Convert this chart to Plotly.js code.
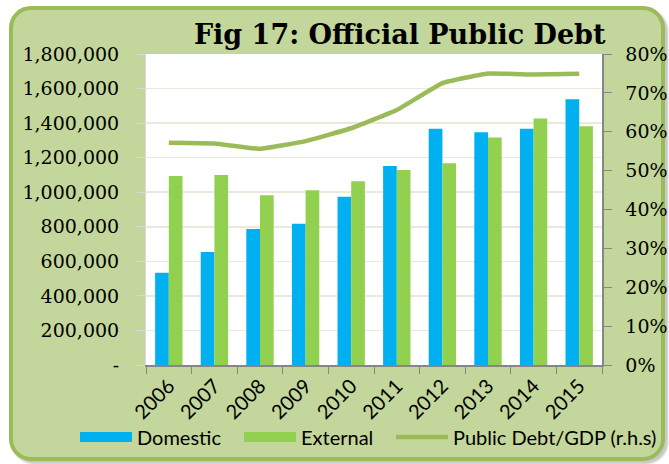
<!DOCTYPE html>
<html>
<head>
<meta charset="utf-8">
<script src="https://cdn.plot.ly/plotly-3.0.1.min.js"></script>
<style>
html,body{margin:0;padding:0;background:#ffffff;}
#wrap{position:relative;width:669px;height:464px;overflow:hidden;background:#ffffff;}
#card{position:absolute;left:9px;top:6px;width:648px;height:447px;background:#c3d69b;border:4px solid #9bbb59;border-radius:22px;box-shadow:3px 3px 2px #c8c8c8;}
#chart{position:absolute;left:0;top:0;width:669px;height:464px;}
</style>
</head>
<body>
<div id="wrap"><div id="card"></div><div id="chart"></div></div>
<script>
const years = ['2006','2007','2008','2009','2010','2011','2012','2013','2014','2015'];
const domestic = [534000, 654000, 787000, 818000, 974000, 1152000, 1368000, 1347000, 1368000, 1538000];
const external = [1094000, 1100000, 982000, 1011000, 1063000, 1129000, 1167000, 1316000, 1426000, 1382000];
const debtToGdp = [0.572, 0.570, 0.556, 0.576, 0.609, 0.656, 0.725, 0.750, 0.747, 0.749];
const leftTickVals = [0, 200000, 400000, 600000, 800000, 1000000, 1200000, 1400000, 1600000, 1800000];
const leftTickText = ['-', '200,000', '400,000', '600,000', '800,000', '1,000,000', '1,200,000', '1,400,000', '1,600,000', '1,800,000'];
const rightTickVals = [0, 0.1, 0.2, 0.3, 0.4, 0.5, 0.6, 0.7, 0.8];
const rightTickText = ['0%', '10%', '20%', '30%', '40%', '50%', '60%', '70%', '80%'];

const tickFont = {family: 'DejaVu Serif, serif', size: 19, color: '#000000'};
const sansFont = {family: 'Lato, sans-serif', size: 20, color: '#000000'};

const traces = [
  {type: 'bar', name: 'Domestic', x: years, y: domestic, marker: {color: '#00b0f0'}, yaxis: 'y', hoverinfo: 'none', showlegend: false},
  {type: 'bar', name: 'External', x: years, y: external, marker: {color: '#92d050'}, yaxis: 'y', hoverinfo: 'none', showlegend: false},
  {type: 'scatter', mode: 'lines', name: 'Public Debt/GDP (r.h.s)', x: years, y: debtToGdp, yaxis: 'y2',
   line: {color: '#9bbb59', width: 4.5, shape: 'spline', smoothing: 0.3}, hoverinfo: 'none', showlegend: false},
  // legend entries
  {type: 'scatter', mode: 'lines', name: 'Domestic', x: [null], y: [null], line: {color: '#00b0f0', width: 12}, showlegend: true, legend: 'legend'},
  {type: 'scatter', mode: 'lines', name: 'External', x: [null], y: [null], line: {color: '#92d050', width: 12}, showlegend: true, legend: 'legend2'},
  {type: 'scatter', mode: 'lines', name: 'Public Debt/GDP (r.h.s)', x: [null], y: [null], yaxis: 'y2', line: {color: '#9bbb59', width: 4.5}, showlegend: true, legend: 'legend3'}
];

function legendAt(px, w) {
  return {orientation: 'h', x: px / 669, xanchor: 'left', xref: 'container', y: 0.058, yanchor: 'middle', yref: 'container',
          font: sansFont, bgcolor: 'rgba(0,0,0,0)', itemwidth: w};
}

const layout = {
  width: 669, height: 464,
  paper_bgcolor: 'rgba(0,0,0,0)',
  plot_bgcolor: '#ffffff',
  margin: {l: 146, r: 67, t: 54, b: 99, pad: 0},
  barmode: 'group', bargap: 0.4, bargroupgap: 0,
  showlegend: true,
  title: {text: '<b>Fig 17: Official Public Debt</b>', x: 0.905, xanchor: 'right', xref: 'container',
          y: 0.925, yanchor: 'middle', yref: 'container',
          font: {family: 'DejaVu Serif, serif', size: 27, color: '#000000'}},
  xaxis: {type: 'category', tickangle: -45, tickfont: sansFont, ticks: 'outside', tickson: 'boundaries',
          ticklen: 7, tickcolor: '#868686', showline: true, linecolor: '#868686', linewidth: 1.5,
          showgrid: false, zeroline: false, automargin: false},
  yaxis: {range: [0, 1800000], tickvals: leftTickVals, ticktext: leftTickText, tickfont: tickFont,
          ticks: 'outside', ticklen: 8, tickcolor: '#d9d9d9', ticklabelstandoff: 14,
          showgrid: true, gridcolor: '#ece9dc', gridwidth: 1.5, showline: true, linecolor: '#d9d9d9',
          zeroline: false, automargin: false, fixedrange: true},
  yaxis2: {range: [0, 0.8], overlaying: 'y', side: 'right', tickvals: rightTickVals, ticktext: rightTickText,
           tickfont: tickFont, ticks: 'outside', ticklen: 8, tickcolor: '#868686', ticklabelstandoff: 10,
           showgrid: false, showline: true, linecolor: '#868686', linewidth: 1.5, zeroline: false, automargin: false},
  legend: legendAt(75, 52),
  legend2: legendAt(239, 52),
  legend3: legendAt(391, 52)
};

Plotly.newPlot('chart', traces, layout, {displayModeBar: false, staticPlot: true});
</script>
</body>
</html>
